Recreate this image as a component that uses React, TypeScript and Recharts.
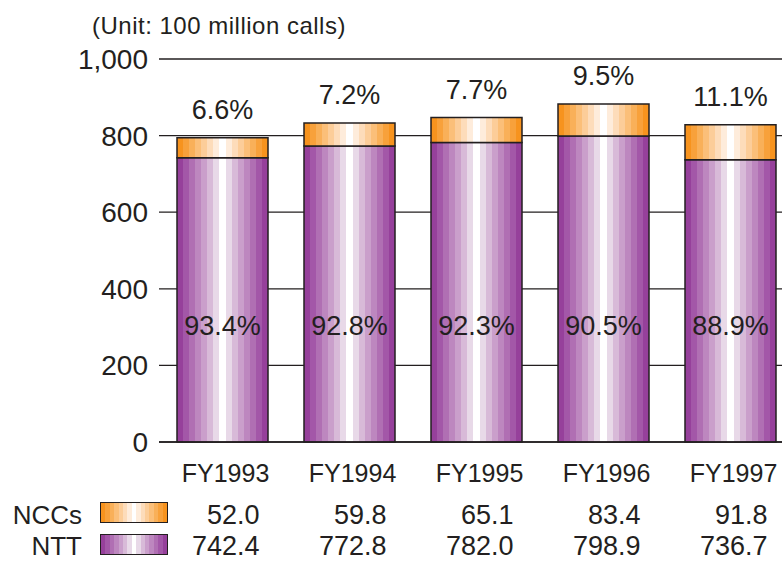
import React from "react";
import {
  BarChart,
  Bar,
  XAxis,
  YAxis,
  CartesianGrid,
  LabelList,
} from "recharts";

const categories = ["FY1993", "FY1994", "FY1995", "FY1996", "FY1997"];
const nccCalls = [52.0, 59.8, 65.1, 83.4, 91.8];
const nttCalls = [742.4, 772.8, 782.0, 798.9, 736.7];
const nccShare = ["6.6%", "7.2%", "7.7%", "9.5%", "11.1%"];
const nttShare = ["93.4%", "92.8%", "92.3%", "90.5%", "88.9%"];
const yTicks = [0, 200, 400, 600, 800, 1000];

const FONT = '"Liberation Sans", Arial, Helvetica, sans-serif';
const INK = "#231f20";

// edge -> centre colours of the banded fills
const purpleBands = ["#96409b", "#a357a8", "#b06fb3", "#bd87bf", "#ca9fcb", "#d8bad8", "#e8d9e8", "#ffffff"];
const orangeBands = ["#f7931e", "#f8a13b", "#f9b059", "#fbbf79", "#fccd99", "#fddcba", "#feecdb", "#ffffff"];

const bandSeq = (cols: string[]) => [...cols, ...cols.slice(0, -1).reverse()];

function StripeGradient({ id, colors }: { id: string; colors: string[] }) {
  const seq = bandSeq(colors);
  const n = seq.length;
  return (
    <linearGradient id={id} x1="0" y1="0" x2="1" y2="0">
      {seq.flatMap((c, i) => [
        <stop key={`${i}a`} offset={`${(i / n) * 100}%`} stopColor={c} />,
        <stop key={`${i}b`} offset={`${((i + 1) / n) * 100}%`} stopColor={c} />,
      ])}
    </linearGradient>
  );
}

function cssStripes(colors: string[]) {
  const seq = bandSeq(colors);
  const n = seq.length;
  const parts = seq.map(
    (c, i) => `${c} ${((i / n) * 100).toFixed(2)}% ${(((i + 1) / n) * 100).toFixed(2)}%`
  );
  return `linear-gradient(to right, ${parts.join(", ")})`;
}

const data = categories.map((name, i) => ({
  name,
  ntt: nttCalls[i],
  ncc: nccCalls[i],
  nttShare: nttShare[i],
  nccShare: nccShare[i],
}));

// category label plus the two value rows of the table underneath
const CategoryTick = (props: any) => {
  const { x, y, payload } = props;
  const i = payload.index;
  return (
    <g fontFamily={FONT} fill={INK}>
      <text x={x + 3} y={y + 40} textAnchor="middle" fontSize={25} fill={INK}>
        {payload.value}
      </text>
      <text x={x + 37} y={y + 82} textAnchor="end" fontSize={27} fill={INK}>
        {nccCalls[i].toFixed(1)}
      </text>
      <text x={x + 37} y={y + 113} textAnchor="end" fontSize={27} fill={INK}>
        {nttCalls[i].toFixed(1)}
      </text>
    </g>
  );
};

const rowLabel: React.CSSProperties = {
  position: "absolute",
  left: 0,
  width: 82,
  textAlign: "right",
  fontSize: 26,
  lineHeight: "26px",
  fontFamily: FONT,
  color: INK,
};

const swatch: React.CSSProperties = {
  position: "absolute",
  left: 100,
  width: 68,
  height: 21,
  boxSizing: "border-box",
  border: `1.5px solid ${INK}`,
};

export default function App() {
  return (
    <div
      style={{
        position: "fixed",
        left: 0,
        top: 0,
        width: 782,
        height: 561,
        overflow: "hidden",
        background: "#fff",
      }}
    >
      <div
        style={{
          position: "absolute",
          left: 92,
          top: 14,
          fontSize: 24,
          lineHeight: "24px",
          letterSpacing: 0.5,
          fontFamily: FONT,
          color: INK,
          whiteSpace: "nowrap",
        }}
      >
        (Unit: 100 million calls)
      </div>

      <BarChart
        width={800}
        height={561}
        data={data}
        margin={{ top: 59, right: 6, bottom: 0, left: 0 }}
        barSize={91}
      >
        <defs>
          <StripeGradient id="nttFill" colors={purpleBands} />
          <StripeGradient id="nccFill" colors={orangeBands} />
        </defs>
        <CartesianGrid vertical={false} stroke={INK} strokeWidth={1.3} />
        <XAxis
          dataKey="name"
          height={119}
          axisLine={{ stroke: INK, strokeWidth: 1.5 }}
          tickLine={false}
          tickSize={0}
          tickMargin={0}
          interval={0}
          tick={<CategoryTick />}
        />
        <YAxis
          width={159}
          domain={[0, 1000]}
          ticks={yTicks}
          axisLine={false}
          tickLine={false}
          tickSize={0}
          tickMargin={11}
          tickFormatter={(v: number) => v.toLocaleString("en-US")}
          tick={{ fontSize: 28, fill: INK, fontFamily: FONT }}
        />
        <Bar
          dataKey="ntt"
          stackId="calls"
          fill="url(#nttFill)"
          stroke={INK}
          strokeWidth={1.5}
          isAnimationActive={false}
        >
          <LabelList
            dataKey="nttShare"
            position="insideBottom"
            offset={107}
            fontSize={27}
            fill={INK}
            fontFamily={FONT}
          />
        </Bar>
        <Bar
          dataKey="ncc"
          stackId="calls"
          fill="url(#nccFill)"
          stroke={INK}
          strokeWidth={1.5}
          isAnimationActive={false}
        >
          <LabelList
            dataKey="nccShare"
            position="top"
            offset={19}
            fontSize={27}
            fill={INK}
            fontFamily={FONT}
          />
        </Bar>
      </BarChart>

      <div style={{ ...rowLabel, top: 502 }}>NCCs</div>
      <div style={{ ...rowLabel, top: 533 }}>NTT</div>
      <div style={{ ...swatch, top: 502, background: cssStripes(orangeBands) }} />
      <div style={{ ...swatch, top: 534, background: cssStripes(purpleBands) }} />
    </div>
  );
}
